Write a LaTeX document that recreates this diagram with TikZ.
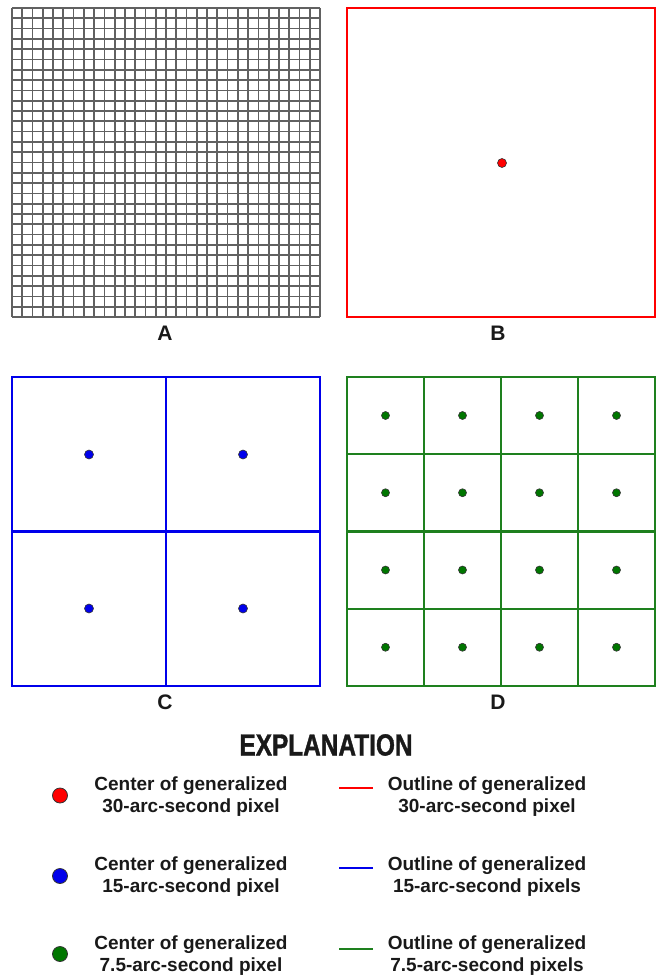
\documentclass[tikz,border=0pt]{standalone}
\usepackage{fontspec}
\setmainfont{Liberation Sans}
\newfontfamily\headfont[FakeStretch=0.8,BoldFeatures={FakeBold=1.2}]{Liberation Sans}
\definecolor{pxred}{RGB}{255,0,0}
\definecolor{pxblue}{RGB}{0,0,235}
\definecolor{pxgreen}{RGB}{30,128,30}
\definecolor{dotgreen}{RGB}{0,118,0}
\definecolor{inkgray}{RGB}{25,25,25}
\begin{document}
\begin{tikzpicture}[x=1pt,y=-1pt,
  gridline/.style={draw=black!62,line width=1.7pt},
  redframe/.style={draw=pxred,line width=2.2pt},
  blueframe/.style={draw=pxblue,line width=2.2pt},
  greenframe/.style={draw=pxgreen,line width=2.2pt},
  pxdot/.style={circle,draw=black!80,line width=0.6pt,inner sep=0pt,minimum size=9pt},
  keydot/.style={circle,draw=black!80,line width=0.8pt,inner sep=0pt,minimum size=15pt},
  keyline/.style={line width=2.6pt},
  panellabel/.style={font=\bfseries\fontsize{21}{21}\selectfont,text=inkgray},
  keytext/.style={align=center,font=\bfseries\fontsize{19}{22}\selectfont,text=inkgray,inner sep=0pt},
  heading/.style={font=\headfont\bfseries\fontsize{30.5}{30.5}\selectfont,text=inkgray}]
\useasboundingbox (0,0) rectangle (658,976);
\fill[white] (0,0) rectangle (658,976);

% Panel A: 30 x 30 grid of 1-arc-second cells
\foreach \i in {0,...,30}{
  \draw[gridline] ({12+\i*308/30},8) -- ({12+\i*308/30},317);
  \draw[gridline] (12,{8+\i*309/30}) -- (320,{8+\i*309/30});
}

% Panel B: single 30-arc-second pixel
\draw[redframe] (347,8) rectangle (655,317);
\node[pxdot,fill=pxred] (cB) at (502,163) {};

% Panel C: 2 x 2 pixels of 15 arc-seconds
\draw[blueframe] (12,377) rectangle (320,686);
\draw[blueframe] (166,377) -- (166,686);
\draw[blueframe] (12,531.5) -- (320,531.5);
\node[pxdot,fill=pxblue] (cC1) at (89,454.5) {};
\node[pxdot,fill=pxblue] (cC2) at (243,454.5) {};
\node[pxdot,fill=pxblue] (cC3) at (89,608.5) {};
\node[pxdot,fill=pxblue] (cC4) at (243,608.5) {};

% Panel D: 4 x 4 pixels of 7.5 arc-seconds
\draw[greenframe] (347,377) rectangle (655,686);
\foreach \k in {1,2,3}{
  \draw[greenframe] ({347+\k*77},377) -- ({347+\k*77},686);
  \draw[greenframe] (347,{377+\k*77.25}) -- (655,{377+\k*77.25});
}
\foreach \c in {0,1,2,3}{
  \foreach \r in {0,1,2,3}{
    \node[pxdot,fill=dotgreen,minimum size=8pt] (cD\c\r) at ({385.5+\c*77},{415.5+\r*77.25}) {};
  }
}

% Panel letters
\node[panellabel] (labA) at (165,333) {A};
\node[panellabel] (labB) at (498,333) {B};
\node[panellabel] (labC) at (165,702) {C};
\node[panellabel] (labD) at (498,702) {D};

% Explanation
\node[heading] (expl) at (326,745) {EXPLANATION};

\node[keydot,fill=pxred] (kd1) at (60,795.5) {};
\node[keytext] (kt1) at (191,797) {Center of generalized\\30-arc-second pixel};
\coordinate (kl1a) at (339,788); \coordinate (kl1b) at (373,788);
\draw[keyline,pxred] (kl1a) -- (kl1b);
\node[keytext] (ko1) at (487,797) {Outline of generalized\\30-arc-second pixel};

\node[keydot,fill=pxblue] (kd2) at (60,876) {};
\node[keytext] (kt2) at (191,876.5) {Center of generalized\\15-arc-second pixel};
\coordinate (kl2a) at (339,868); \coordinate (kl2b) at (373,868);
\draw[keyline,pxblue] (kl2a) -- (kl2b);
\node[keytext] (ko2) at (487,876.5) {Outline of generalized\\15-arc-second pixels};

\node[keydot,fill=dotgreen] (kd3) at (60,954) {};
\node[keytext] (kt3) at (191,956) {Center of generalized\\7.5-arc-second pixel};
\coordinate (kl3a) at (339,949); \coordinate (kl3b) at (373,949);
\draw[keyline,pxgreen] (kl3a) -- (kl3b);
\node[keytext] (ko3) at (487,956) {Outline of generalized\\7.5-arc-second pixels};
\end{tikzpicture}
\end{document}
